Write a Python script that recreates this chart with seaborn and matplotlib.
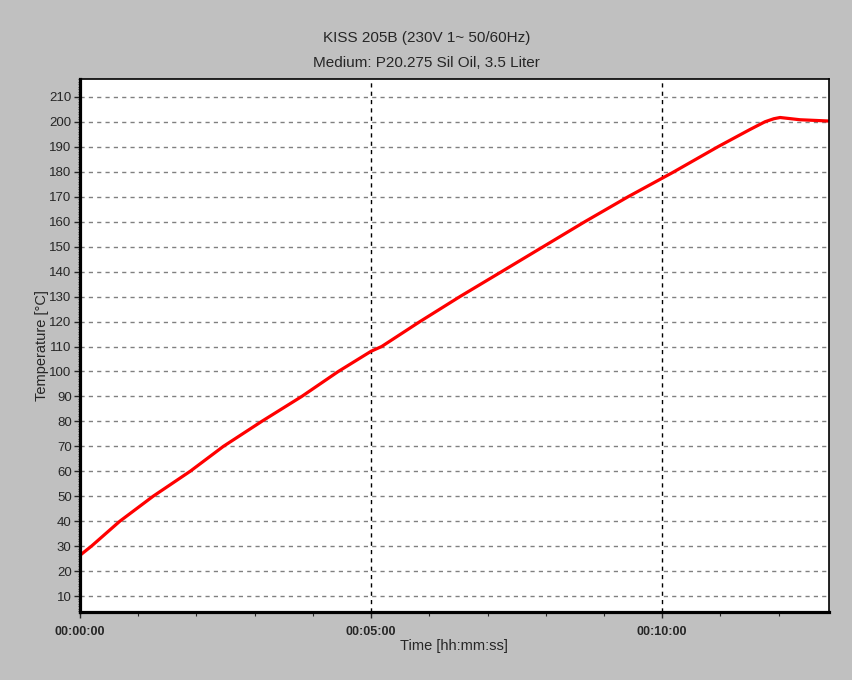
import numpy as np
import pandas as pd
import seaborn as sns
import matplotlib.pyplot as plt
from matplotlib.ticker import FuncFormatter, MultipleLocator

# Werte (Zeit in Sekunden, Temperatur in °C)
zeit_s = [0, 11.6, 40.9, 75.2, 113.4, 147.7, 187.2, 228.5, 266.2, 300,
          310.9, 350.4, 391.6, 434.6, 477.5, 520.4, 565, 600, 610, 657.5,
          690, 706, 715, 721.5, 742, 771]
temp_c = [26.4, 30, 40, 50, 60, 70, 80, 90, 100, 108.1,
          110, 120, 130, 140, 150, 160, 170, 177.4, 179.5, 190,
          196.8, 200, 201.2, 201.7, 200.8, 200.3]
y_ticks = list(range(10, 220, 10))
x_ticks = [0, 300, 600]

df = pd.DataFrame({'Zeit': zeit_s, 'Temperatur': temp_c})

sns.set_style('white')
plt.rcParams['font.family'] = ['Liberation Sans', 'DejaVu Sans']

fig = plt.figure(figsize=(8.53, 6.8), dpi=100, facecolor='#c0c0c0')
ax = fig.add_axes([0.0938, 0.1004, 0.8776, 0.783])
ax.set_facecolor('white')

sns.lineplot(data=df, x='Zeit', y='Temperatur', ax=ax, color='#ff0000', linewidth=2.3)

ax.set_xlim(0, 771.5)
ax.set_ylim(3.8, 217)
ax.set_yticks(y_ticks)
ax.set_xticks(x_ticks)
ax.xaxis.set_minor_locator(MultipleLocator(60))
ax.yaxis.set_minor_locator(MultipleLocator(1))

def hhmmss(v, pos):
    v = int(round(v))
    return '%02d:%02d:%02d' % (v // 3600, (v % 3600) // 60, v % 60)

ax.xaxis.set_major_formatter(FuncFormatter(hhmmss))

# Gitterlinien
for y in y_ticks:
    ax.axhline(y, color='#808080', linestyle=(0, (3, 3)), linewidth=1.0, zorder=0)
for x in [300, 600]:
    ax.axvline(x, color='black', linestyle=(0, (3, 3)), linewidth=1.0, zorder=0)

for side in ['left', 'bottom']:
    ax.spines[side].set_linewidth(2.3)
    ax.spines[side].set_color('black')
for side in ['top', 'right']:
    ax.spines[side].set_linewidth(1.2)
    ax.spines[side].set_color('black')

ax.tick_params(axis='y', which='major', left=True, length=4, width=1, labelsize=9.5, pad=2)
ax.tick_params(axis='y', which='minor', left=True, length=1.5, width=0.5)
ax.tick_params(axis='x', which='major', bottom=True, length=4, width=1, labelsize=9, pad=6)
ax.tick_params(axis='x', which='minor', bottom=True, length=3, width=0.8)
for lbl in ax.get_xticklabels():
    lbl.set_fontweight('bold')

ax.set_xlabel('Time [hh:mm:ss]', fontsize=10.5, labelpad=1)
ax.set_ylabel('Temperature [°C]', fontsize=10.5, labelpad=0.5)

fig.text(0.5, 1 - 38 / 680, 'KISS 205B (230V 1~ 50/60Hz)', ha='center', va='center', fontsize=11)
fig.text(0.5, 1 - 63 / 680, 'Medium: P20.275 Sil Oil, 3.5 Liter', ha='center', va='center', fontsize=11)

fig.savefig('out.png', dpi=100, facecolor=fig.get_facecolor())
